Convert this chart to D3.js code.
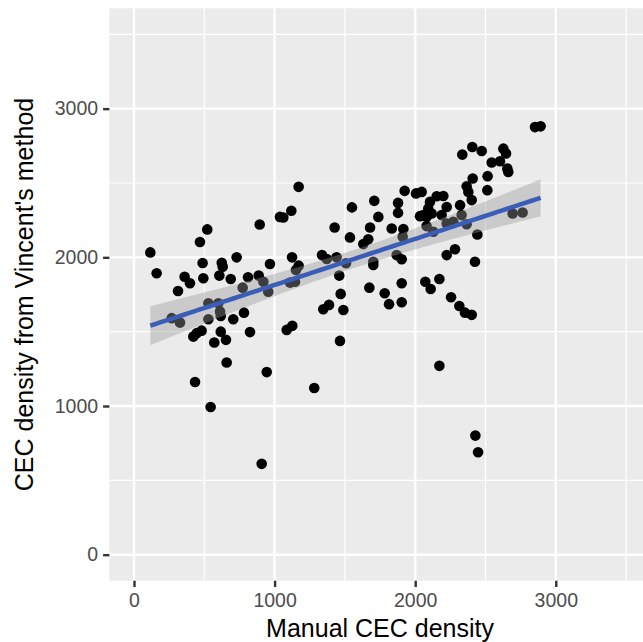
<!DOCTYPE html>
<html>
<head>
<meta charset="utf-8">
<script src="https://cdn.jsdelivr.net/npm/d3@7"></script>
<style>
  body { margin: 0; background: #fff; }
  svg { display: block; font-family: 'Liberation Sans', Arial, Helvetica, sans-serif; }
</style>
</head>
<body>
<svg id="chart"></svg>
<script>
// manual CEC density (x) vs Vincent's method (y)
const manual = [116, 161, 313, 521, 469, 488, 360, 398, 493, 624, 631, 607, 688, 730, 811, 887, 894, 967, 1038, 920,
  955, 773, 1171, 1119, 1062, 1124, 1171, 1152, 1110, 1145, 1337, 1371, 1441, 1427, 1550, 1536, 1460, 1470, 1508, 1631,
  1666, 1679, 1709, 1738, 1702, 1702, 1674, 1783, 1833, 1878, 1878, 1916, 1911, 1868, 1904, 1904, 1925, 2006, 2072, 2110,
  2034, 2081, 2105, 2093, 2081, 2153, 2129, 2852, 2892, 2335, 2406, 2473, 2627, 2646, 2544, 2603, 2655, 2662, 2515, 2409,
  2366, 2378, 2513, 2402, 2319, 2200, 2046, 2224, 2188, 2117, 2058, 2224, 2271, 2330, 2366, 2693, 2764, 2442, 2283, 2224,
  2425, 2172, 2255, 2314, 2354, 2402, 2172, 2428, 2447, 268, 327, 529, 600, 612, 529, 617, 422, 446, 481, 617,
  654, 571, 706, 782, 825, 659, 434, 944, 545, 908, 1086, 1126, 1346, 1387, 1489, 1465, 1282, 1814, 1904]
const vincent = [2033, 1893, 1774, 2188, 2103, 1962, 1869, 1826, 1859, 1964, 1937, 1877, 1854, 2000, 1866, 1877, 2221, 1955, 2272, 1836,
  1769, 1796, 2474, 2313, 2268, 2000, 1944, 1915, 1830, 1836, 2015, 1989, 2000, 2201, 2336, 2134, 1877, 1754, 1960, 2089,
  2121, 2201, 2380, 2272, 1970, 1948, 1796, 1758, 2194, 2366, 2299, 2190, 2138, 2015, 1987, 1826, 2447, 2430, 1836, 1787,
  2277, 2272, 2373, 2329, 2210, 2411, 2172, 2876, 2881, 2691, 2742, 2715, 2731, 2698, 2638, 2646, 2597, 2574, 2546, 2530,
  2478, 2440, 2452, 2385, 2351, 2413, 2440, 2339, 2284, 2295, 2284, 2228, 2239, 2284, 2223, 2295, 2302, 2154, 2054, 2015,
  1970, 1854, 1732, 1673, 1628, 1613, 1270, 801, 689, 1591, 1561, 1691, 1691, 1635, 1584, 1606, 1467, 1490, 1507, 1500,
  1445, 1427, 1584, 1628, 1497, 1293, 1161, 1228, 993, 611, 1512, 1539, 1651, 1680, 1646, 1438, 1121, 1685, 1698]

const majorTicks = [0, 1000, 2000, 3000]
const minorTicks = [500, 1500, 2500, 3500]
const xTitle = 'Manual CEC density'
const yTitle = "CEC density from Vincent's method"

const W = 643
const H = 642
const panel = { left: 109.4, right: 650.7, top: 8.3, bottom: 580.7 }

const data = manual.map((m, i) => ({ x: m, y: vincent[i] }))

const x = d3.scaleLinear().domain([-175, 3675]).range([panel.left, panel.right])
const y = d3.scaleLinear().domain([-175, 3675]).range([panel.bottom, panel.top])

const svg = d3.select('#chart').attr('width', W).attr('height', H)

// panel background
svg
  .append('rect')
  .attr('x', panel.left)
  .attr('y', panel.top)
  .attr('width', panel.right - panel.left)
  .attr('height', panel.bottom - panel.top)
  .attr('fill', '#EBEBEB')

const grid = svg.append('g')
// minor grid
grid
  .selectAll('.vminor')
  .data(minorTicks)
  .join('line')
  .attr('x1', (d) => x(d))
  .attr('x2', (d) => x(d))
  .attr('y1', panel.top)
  .attr('y2', panel.bottom)
  .attr('stroke', '#fff')
  .attr('stroke-width', 1.2)
grid
  .selectAll('.hminor')
  .data(minorTicks)
  .join('line')
  .attr('x1', panel.left)
  .attr('x2', panel.right)
  .attr('y1', (d) => y(d))
  .attr('y2', (d) => y(d))
  .attr('stroke', '#fff')
  .attr('stroke-width', 1.2)
// major grid
grid
  .selectAll('.vmajor')
  .data(majorTicks)
  .join('line')
  .attr('x1', (d) => x(d))
  .attr('x2', (d) => x(d))
  .attr('y1', panel.top)
  .attr('y2', panel.bottom)
  .attr('stroke', '#fff')
  .attr('stroke-width', 2.4)
grid
  .selectAll('.hmajor')
  .data(majorTicks)
  .join('line')
  .attr('x1', panel.left)
  .attr('x2', panel.right)
  .attr('y1', (d) => y(d))
  .attr('y2', (d) => y(d))
  .attr('stroke', '#fff')
  .attr('stroke-width', 2.4)

// points
svg
  .append('g')
  .selectAll('circle')
  .data(data)
  .join('circle')
  .attr('cx', (d) => x(d.x))
  .attr('cy', (d) => y(d.y))
  .attr('r', 5.3)
  .attr('fill', '#000')

// linear fit with 95% band (like geom_smooth(method = 'lm'))
const n = data.length
const mx = d3.mean(data, (d) => d.x)
const my = d3.mean(data, (d) => d.y)
const sxx = d3.sum(data, (d) => (d.x - mx) ** 2)
const sxy = d3.sum(data, (d) => (d.x - mx) * (d.y - my))
const slope = sxy / sxx
const intercept = my - slope * mx
const rss = d3.sum(data, (d) => (d.y - intercept - slope * d.x) ** 2)
const s = Math.sqrt(rss / (n - 2))
const tq = 1.977
const [xmin, xmax] = d3.extent(data, (d) => d.x)
const fit = d3.range(0, 81).map((i) => {
  const xv = xmin + ((xmax - xmin) * i) / 80
  const yv = intercept + slope * xv
  const se = s * Math.sqrt(1 / n + (xv - mx) ** 2 / sxx)
  return { x: xv, y: yv, lo: yv - tq * se, hi: yv + tq * se }
})

svg
  .append('path')
  .datum(fit)
  .attr('fill', '#999999')
  .attr('fill-opacity', 0.4)
  .attr(
    'd',
    d3
      .area()
      .x((d) => x(d.x))
      .y0((d) => y(d.lo))
      .y1((d) => y(d.hi))
  )

svg
  .append('path')
  .datum(fit)
  .attr('fill', 'none')
  .attr('stroke', '#3A5DB8')
  .attr('stroke-width', 4.5)
  .attr(
    'd',
    d3
      .line()
      .x((d) => x(d.x))
      .y((d) => y(d.y))
  )

// axes
const xAxis = svg
  .append('g')
  .attr('transform', `translate(0,${panel.bottom})`)
  .call(d3.axisBottom(x).tickValues(majorTicks).tickSize(6.3).tickPadding(6).tickFormat(d3.format('d')))
xAxis.select('.domain').remove()
xAxis.selectAll('line').attr('stroke', '#333333').attr('stroke-width', 2.4)
xAxis.selectAll('text').attr('fill', '#4D4D4D').attr('font-size', 19.5).attr('font-family', null)

const yAxis = svg
  .append('g')
  .attr('transform', `translate(${panel.left},0)`)
  .call(d3.axisLeft(y).tickValues(majorTicks).tickSize(6.3).tickPadding(5).tickFormat(d3.format('d')))
yAxis.select('.domain').remove()
yAxis.selectAll('line').attr('stroke', '#333333').attr('stroke-width', 2.4)
yAxis.selectAll('text').attr('fill', '#4D4D4D').attr('font-size', 19.5).attr('font-family', null)

// axis titles
svg
  .append('text')
  .attr('x', (panel.left + panel.right) / 2)
  .attr('y', 637)
  .attr('text-anchor', 'middle')
  .attr('font-size', 25)
  .attr('fill', '#000')
  .text(xTitle)

svg
  .append('text')
  .attr('transform', `translate(33,${(panel.top + panel.bottom) / 2}) rotate(-90)`)
  .attr('text-anchor', 'middle')
  .attr('font-size', 25)
  .attr('fill', '#000')
  .text(yTitle)
</script>
</body>
</html>
